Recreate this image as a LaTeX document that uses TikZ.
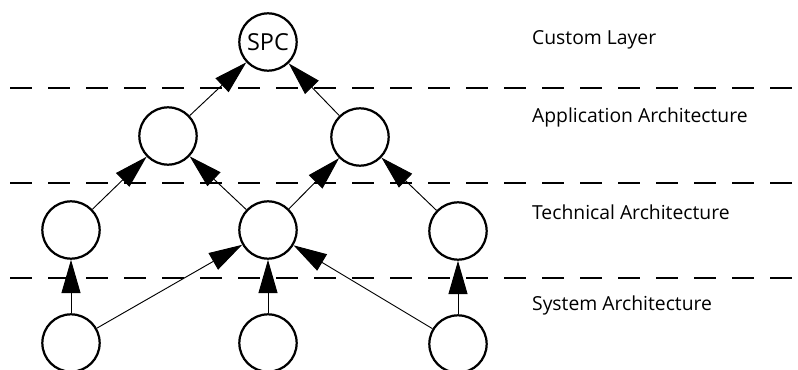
\documentclass[tikz,border=0pt]{standalone}
\usepackage{fontspec}
\setmainfont{Open Sans}
\usetikzlibrary{arrows.meta}

\tikzset{
    layer/.style={circle,draw,line width=1.9pt,minimum size=1.72cm,inner sep=0pt},
    link/.style={-{Triangle[length=1cm,width=0.57cm]},line width=0.8pt},
    sep/.style={line width=2pt,dash pattern=on 0.66cm off 0.48cm},
    lbl/.style={anchor=west,font=\fontsize{16.5}{18}\selectfont}
}

\begin{document}
\begin{tikzpicture}[x=0.03cm,y=-0.03cm]
    \useasboundingbox (0,0) rectangle (798,370);

    % layer borders
    \foreach \y in {88,183,278} {
        \draw[sep] (10,\y) -- (798,\y);
    }

    % nodes
    \node[layer,font=\fontsize{20}{22}\selectfont] (spc) at (268,42) {SPC};
    \node[layer] (appl) at (168,136) {};
    \node[layer] (appr) at (360,137) {};
    \node[layer] (techl) at (71,230) {};
    \node[layer] (techm) at (268,230) {};
    \node[layer] (techr) at (458,231) {};
    \node[layer] (sysl) at (71,343) {};
    \node[layer] (sysm) at (268,343) {};
    \node[layer] (sysr) at (458,344) {};

    % connections
    \foreach \a/\b in {appl/spc,appr/spc,techl/appl,techm/appl,techm/appr,techr/appr,
                       sysl/techl,sysl/techm,sysm/techm,sysr/techm,sysr/techr} {
        \draw[link] (\a) -- (\b);
    }

    % layer names
    \node[lbl] (custom) at (528,40) {Custom Layer};
    \node[lbl] (appa) at (528,117) {Application Architecture};
    \node[lbl] (techa) at (528,212) {Technical Architecture};
    \node[lbl] (sysa) at (528,305) {System Architecture};
\end{tikzpicture}
\end{document}
